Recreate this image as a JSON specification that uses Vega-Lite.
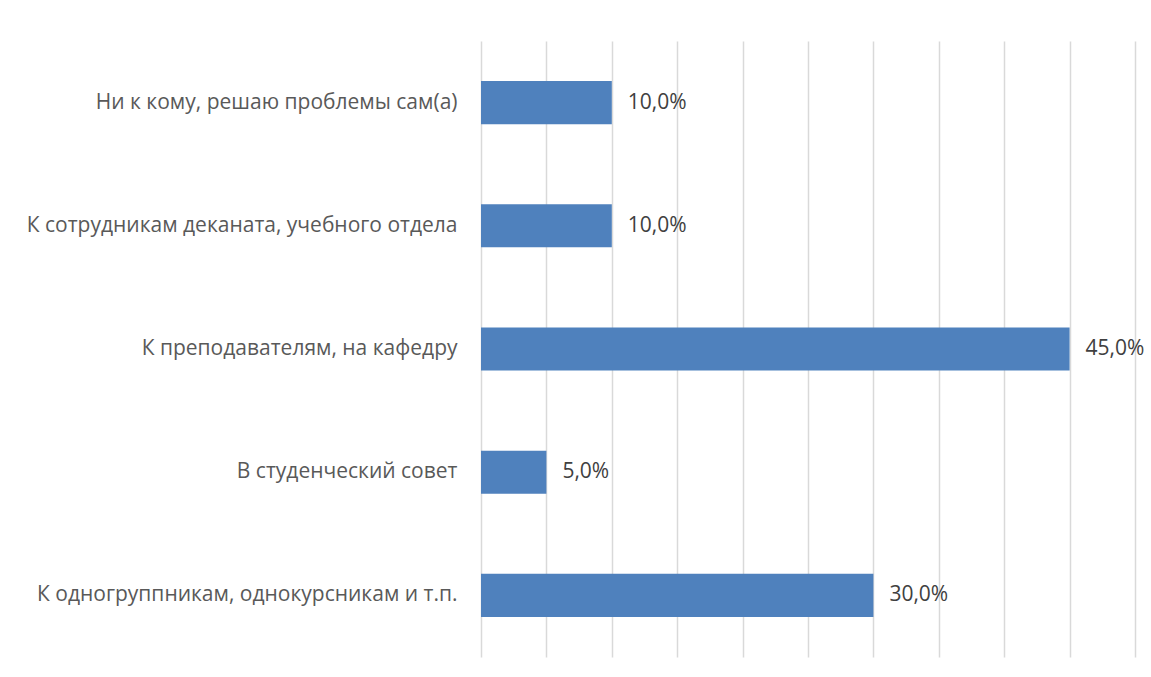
{
  "$schema": "https://vega.github.io/schema/vega-lite/v6.json",
  "width": 654,
  "height": 616,
  "autosize": {"type": "none"},
  "padding": {"left": 481, "top": 41, "right": 16, "bottom": 20},
  "background": "white",
  "config": {
    "view": {"stroke": null},
    "locale": {"number": {"decimal": ",", "thousands": " ", "grouping": [3], "currency": ["", " ₽"]}},
    "font": "Open Sans"
  },
  "data": {
    "values": [
      {"category": "Ни к кому, решаю проблемы сам(а)", "value": 0.10},
      {"category": "К сотрудникам деканата, учебного отдела", "value": 0.10},
      {"category": "К преподавателям, на кафедру", "value": 0.45},
      {"category": "В студенческий совет", "value": 0.05},
      {"category": "К одногруппникам, однокурсникам и т.п.", "value": 0.30}
    ]
  },
  "encoding": {
    "y": {
      "field": "category", "type": "nominal", "sort": null,
      "scale": {"paddingInner": 0.65, "paddingOuter": 0.325},
      "axis": {"title": null, "domain": false, "ticks": false, "labelPadding": 24, "labelFontSize": 21, "labelColor": "#595959", "labelFont": "Open Sans", "labelLimit": 600}
    },
    "x": {
      "field": "value", "type": "quantitative",
      "scale": {"domain": [0, 0.5], "nice": false},
      "axis": {"title": null, "labels": false, "domain": false, "ticks": false, "values": [0, 0.05, 0.1, 0.15, 0.2, 0.25, 0.3, 0.35, 0.4, 0.45, 0.5], "grid": true, "gridColor": "#D9D9D9", "gridWidth": 1.5}
    }
  },
  "layer": [
    {"mark": {"type": "bar", "color": "#4F81BD"}},
    {
      "mark": {"type": "text", "align": "left", "baseline": "middle", "dx": 16, "fontSize": 21, "color": "#404040", "font": "Open Sans"},
      "encoding": {"text": {"field": "value", "type": "quantitative", "format": ".1%"}}
    }
  ]
}
